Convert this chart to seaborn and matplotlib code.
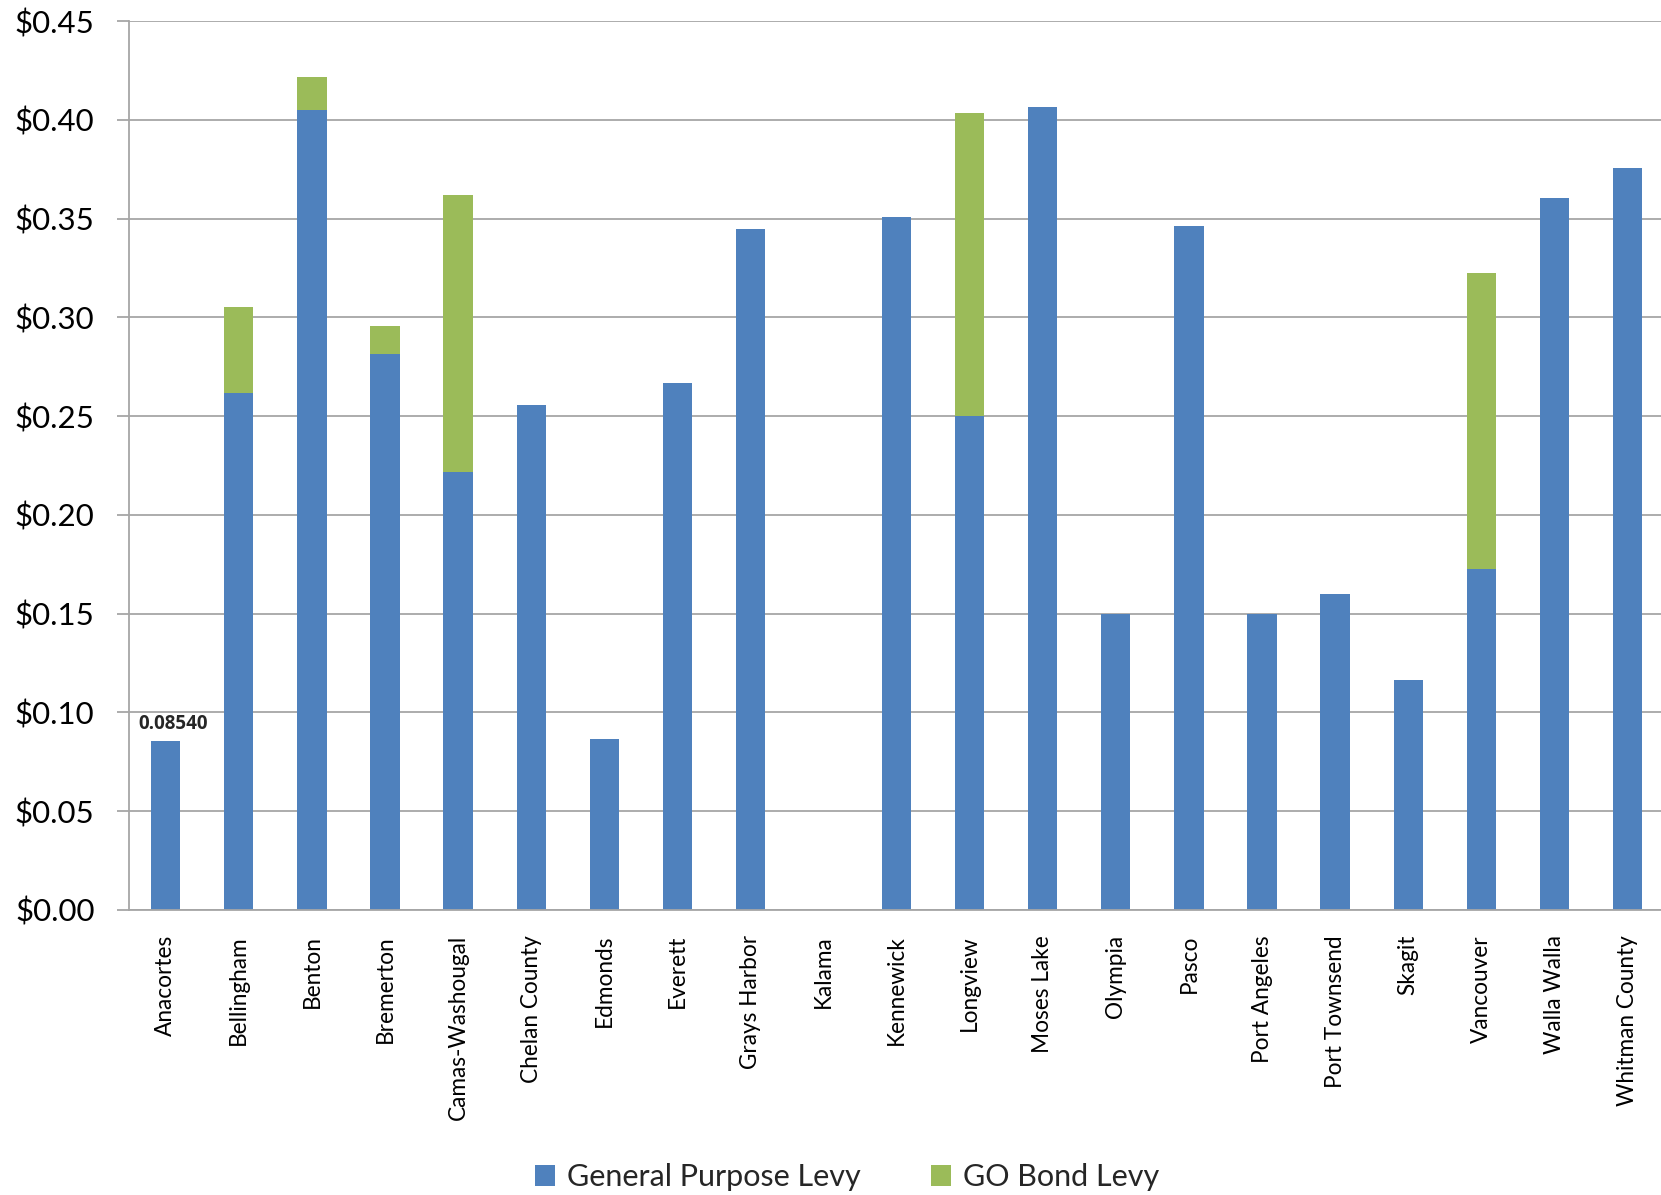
import matplotlib
matplotlib.use("Agg")
import matplotlib.pyplot as plt
from matplotlib.patches import Patch
import seaborn as sns
import pandas as pd
import numpy as np

categories = ["Anacortes", "Bellingham", "Benton", "Bremerton", "Camas-Washougal",
              "Chelan County", "Edmonds", "Everett", "Grays Harbor", "Kalama",
              "Kennewick", "Longview", "Moses Lake", "Olympia", "Pasco",
              "Port Angeles", "Port Townsend", "Skagit", "Vancouver", "Walla Walla",
              "Whitman County"]
general_purpose = [0.0854, 0.2617, 0.4050, 0.2816, 0.2215,
                   0.2558, 0.0864, 0.2666, 0.3449, 0.0,
                   0.3508, 0.2500, 0.4066, 0.1500, 0.3465,
                   0.1500, 0.1600, 0.1164, 0.1727, 0.3604,
                   0.3755]
go_bond = [0.0, 0.0435, 0.0166, 0.0139, 0.1405,
           0.0, 0.0, 0.0, 0.0, 0.0,
           0.0, 0.1534, 0.0, 0.0, 0.0,
           0.0, 0.0, 0.0, 0.1496, 0.0,
           0.0]
y_ticks = [0.00, 0.05, 0.10, 0.15, 0.20, 0.25, 0.30, 0.35, 0.40, 0.45]

BLUE = "#4F81BD"
GREEN = "#9BBB59"
GRID = "#A6A6A6"

sns.set_theme(style="white")
plt.rcParams['font.family'] = ['Lato', 'DejaVu Sans']

df = pd.DataFrame({"category": categories,
                   "general": general_purpose,
                   "go": go_bond})
df["total"] = df["general"] + df["go"]

fig = plt.figure(figsize=(16.61, 11.95), dpi=100)
ax = fig.add_axes([0.0778, 0.2385, 0.924, 0.7438])

sns.barplot(data=df, x="category", y="total", color=GREEN, width=0.4,
            saturation=1, ax=ax, linewidth=0)
sns.barplot(data=df, x="category", y="general", color=BLUE, width=0.4,
            saturation=1, ax=ax, linewidth=0)

ax.set_xlim(-0.5, len(categories) - 0.5)
ax.set_ylim(0, 0.45)
ax.set_yticks(y_ticks)
ax.set_yticklabels([f"${v:.2f}" for v in y_ticks], fontsize=22.5, color="#000000")
ax.yaxis.grid(True, color=GRID, linewidth=1.3)
ax.set_axisbelow(True)

ax.set_xticks(range(len(categories)))
ax.set_xticklabels(categories, rotation=90, fontsize=16.3, color="#000000",
                   va="top", ha="center")
ax.set_xticks(np.arange(-0.5, len(categories) + 0.5, 1), minor=True)
ax.tick_params(axis="x", which="major", length=0, pad=18)
ax.tick_params(axis="x", which="minor", length=8, width=1.3, color=GRID, direction="out")
ax.tick_params(axis="y", which="major", length=9, width=1.3, color=GRID, pad=16, left=True)

for side in ["top", "right"]:
    ax.spines[side].set_visible(False)
for side in ["left", "bottom"]:
    ax.spines[side].set_color(GRID)
    ax.spines[side].set_linewidth(1.3)

ax.set_xlabel("")
ax.set_ylabel("")

ax.annotate(f"{general_purpose[0]:.5f}", xy=(0, general_purpose[0]),
            xytext=(5, 5), textcoords="offset points",
            ha="center", va="bottom", fontsize=13.5, fontweight="bold",
            family=["Open Sans", "DejaVu Sans"])

handles = [Patch(facecolor=BLUE, edgecolor="none", label="General Purpose Levy"),
           Patch(facecolor=GREEN, edgecolor="none", label="GO Bond Levy")]
fig.legend(handles=handles, loc="center", bbox_to_anchor=(0.51, 0.015),
           ncol=2, frameon=False, fontsize=22, handlelength=0.65, handleheight=0.65,
           handletextpad=0.4, columnspacing=2.3)

fig.savefig("out.png", dpi=100)
